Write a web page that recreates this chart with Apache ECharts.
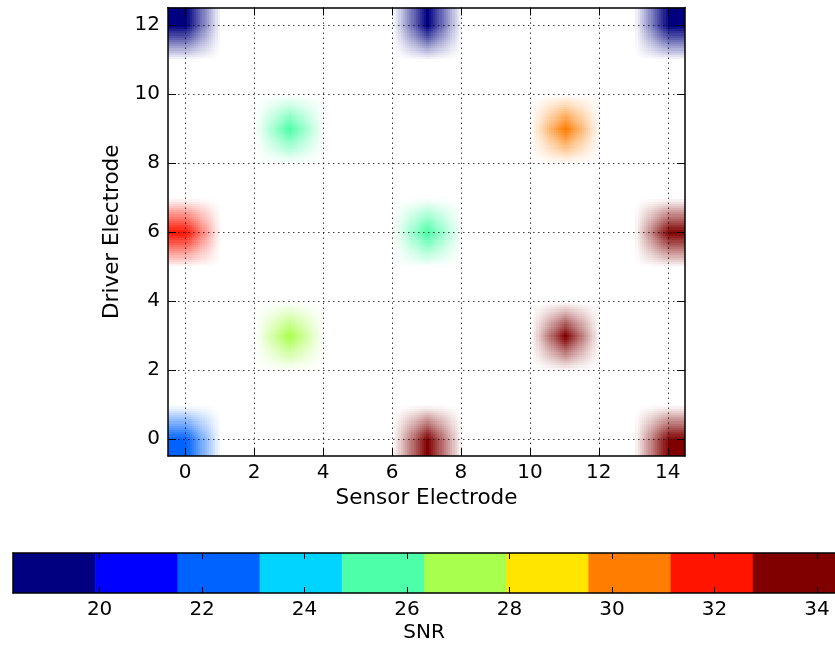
<!DOCTYPE html>
<html><head><meta charset="utf-8">
<script src="https://cdn.jsdelivr.net/npm/echarts@6/dist/echarts.min.js"></script>
<style>html,body{margin:0;padding:0;background:#fff}#c{width:835px;height:646px}</style>
</head><body><div id="c"></div>
<script>
// ---- data ----
const sensorX = [0, 7, 14, 3, 11, 0, 7, 14, 3, 11, 0, 7, 14];
const driverY = [0, 0, 0, 3, 3, 6, 6, 6, 9, 9, 12, 12, 12];
const snr     = [22.3, 34.0, 34.35, 27.1, 33.5, 32.0, 25.6, 33.8, 25.4, 30.4, 18.31, 18.8, 19.2];
const xTicks = [0, 2, 4, 6, 8, 10, 12, 14];
const yTicks = [0, 2, 4, 6, 8, 10, 12];
const cbarTicks = [20, 22, 24, 26, 28, 30, 32, 34];
const cmapColors = ['#000080', '#0000ff', '#0063ff', '#00d4ff', '#4effa9', '#a9ff4d', '#ffe500', '#ff7d00', '#ff1400', '#800000'];

// ---- derived ----
const vmin = Math.min(...snr), vmax = Math.max(...snr);
const nBins = cmapColors.length;
const binEdges = cmapColors.map((c, i) => vmin + (vmax - vmin) * i / nBins).concat([vmax]);
const xMin = Math.min(...sensorX), xMax = Math.max(...sensorX);
const yMin = Math.min(...driverY), yMax = Math.max(...driverY);
function colorFor(v) {
  let k = Math.floor((v - vmin) / (vmax - vmin) * nBins);
  return cmapColors[Math.max(0, Math.min(nBins - 1, k))];
}
function hexToRgb(h) { return [parseInt(h.substr(1,2),16), parseInt(h.substr(3,2),16), parseInt(h.substr(5,2),16)]; }
const spotCache = {};
function spotImage(color, l, r, b, t) {
  const key = [color, l, r, b, t].join('|');
  if (spotCache[key]) return spotCache[key];
  const cv = document.createElement('canvas'); cv.width = 3; cv.height = 3;
  const ctx = cv.getContext('2d');
  const ax = [l ? 1 : 0, 1, r ? 1 : 0];
  const ay = [t ? 1 : 0, 1, b ? 1 : 0];
  const rgb = hexToRgb(color);
  const im = ctx.createImageData(3, 3);
  for (let j = 0; j < 3; j++) for (let i = 0; i < 3; i++) {
    const k = (j * 3 + i) * 4;
    im.data[k] = rgb[0]; im.data[k+1] = rgb[1]; im.data[k+2] = rgb[2];
    im.data[k+3] = Math.round(255 * ax[i] * ay[j]);
  }
  ctx.putImageData(im, 0, 0);
  spotCache[key] = cv;
  return cv;
}

const FF = 'DejaVu Sans';
const txt = { fontFamily: FF, fontSize: 20, color: '#000' };
const nameTxt = { fontFamily: FF, fontSize: 21.5, color: '#000' };
const blackLine = { color: '#000', width: 1.5 };
const dotted = { color: 'rgba(0,0,0,0.75)', type: [1.5, 3.5], width: 1 };

const chart = echarts.init(document.getElementById('c'), null, { renderer: 'canvas' });
chart.setOption({
  animation: false,
  backgroundColor: '#fff',
  grid: [
    { left: 168, top: 7.5, width: 517, height: 448.5 },
    { left: 13, top: 553, width: 826, height: 40 }
  ],
  xAxis: [
    { gridIndex: 0, type: 'value', min: -0.5, max: 14.5, position: 'bottom', z: 5,
      axisLine: { show: true, onZero: false, lineStyle: blackLine },
      axisTick: { show: true, inside: true, length: 8, customValues: xTicks, lineStyle: { color: '#000', width: 1 } },
      axisLabel: { show: true, customValues: xTicks, margin: 7, ...txt },
      splitLine: { show: true, lineStyle: dotted },
      name: 'Sensor Electrode', nameLocation: 'middle', nameGap: 29, nameTextStyle: nameTxt },
    { gridIndex: 0, type: 'value', min: -0.5, max: 14.5, position: 'top', z: 5,
      axisLine: { show: true, onZero: false, lineStyle: blackLine },
      axisTick: { show: true, inside: true, length: 8, customValues: xTicks, lineStyle: { color: '#000', width: 1 } },
      axisLabel: { show: false }, splitLine: { show: false } },
    { gridIndex: 1, type: 'value', min: vmin, max: vmax, position: 'bottom', z: 5,
      axisLine: { show: true, onZero: false, lineStyle: { color: '#000', width: 1.5 } },
      axisTick: { show: true, inside: true, length: 6, customValues: cbarTicks, lineStyle: { color: '#000', width: 1 } },
      axisLabel: { show: true, customValues: cbarTicks, margin: 7, ...txt },
      splitLine: { show: false },
      name: 'SNR', nameLocation: 'middle', nameGap: 30, nameTextStyle: txt },
    { gridIndex: 1, type: 'value', min: vmin, max: vmax, position: 'top', z: 5,
      axisLine: { show: true, onZero: false, lineStyle: { color: '#000', width: 1.5 } },
      axisTick: { show: true, inside: true, length: 6, customValues: cbarTicks, lineStyle: { color: '#000', width: 1 } },
      axisLabel: { show: false }, splitLine: { show: false } }
  ],
  yAxis: [
    { gridIndex: 0, type: 'value', min: -0.5, max: 12.5, position: 'left', z: 5,
      axisLine: { show: true, onZero: false, lineStyle: blackLine },
      axisTick: { show: true, inside: true, length: 8, customValues: yTicks, lineStyle: { color: '#000', width: 1 } },
      axisLabel: { show: true, customValues: yTicks, margin: 8, ...txt },
      splitLine: { show: true, lineStyle: dotted },
      name: 'Driver Electrode', nameLocation: 'middle', nameGap: 41, nameRotate: 90, nameTextStyle: nameTxt },
    { gridIndex: 0, type: 'value', min: -0.5, max: 12.5, position: 'right', z: 5,
      axisLine: { show: true, onZero: false, lineStyle: blackLine },
      axisTick: { show: true, inside: true, length: 8, customValues: yTicks, lineStyle: { color: '#000', width: 1 } },
      axisLabel: { show: false }, splitLine: { show: false } },
    { gridIndex: 1, type: 'value', min: 0, max: 1, position: 'left', z: 5,
      axisLine: { show: true, onZero: false, lineStyle: { color: '#000', width: 1.5 } },
      axisTick: { show: false }, axisLabel: { show: false }, splitLine: { show: false } }
  ],
  series: [
    { type: 'custom', xAxisIndex: 0, yAxisIndex: 0, clip: true, z: 1,
      encode: { x: 0, y: 1 },
      data: sensorX.map((x, i) => [x, driverY[i], snr[i]]),
      renderItem: function (params, api) {
        const x = api.value(0), y = api.value(1), v = api.value(2);
        const c = api.coord([x, y]);
        const s = api.size([1, 1]);
        return { type: 'image', style: {
          image: spotImage(colorFor(v), x === xMin, x === xMax, y === yMin, y === yMax),
          x: c[0] - 1.5 * s[0], y: c[1] - 1.5 * s[1], width: 3 * s[0], height: 3 * s[1] } };
      } },
    { type: 'custom', xAxisIndex: 2, yAxisIndex: 2, z: 1,
      encode: { x: [0, 1], y: 2 },
      data: cmapColors.map((c, i) => [binEdges[i], binEdges[i + 1], 0, i]),
      renderItem: function (params, api) {
        const p0 = api.coord([api.value(0), 0]);
        const p1 = api.coord([api.value(1), 1]);
        return { type: 'rect', shape: { x: p0[0], y: p1[1], width: p1[0] - p0[0] + 0.6, height: p0[1] - p1[1] },
          style: { fill: cmapColors[api.value(3)] } };
      } }
  ]
});
</script>
</body></html>
